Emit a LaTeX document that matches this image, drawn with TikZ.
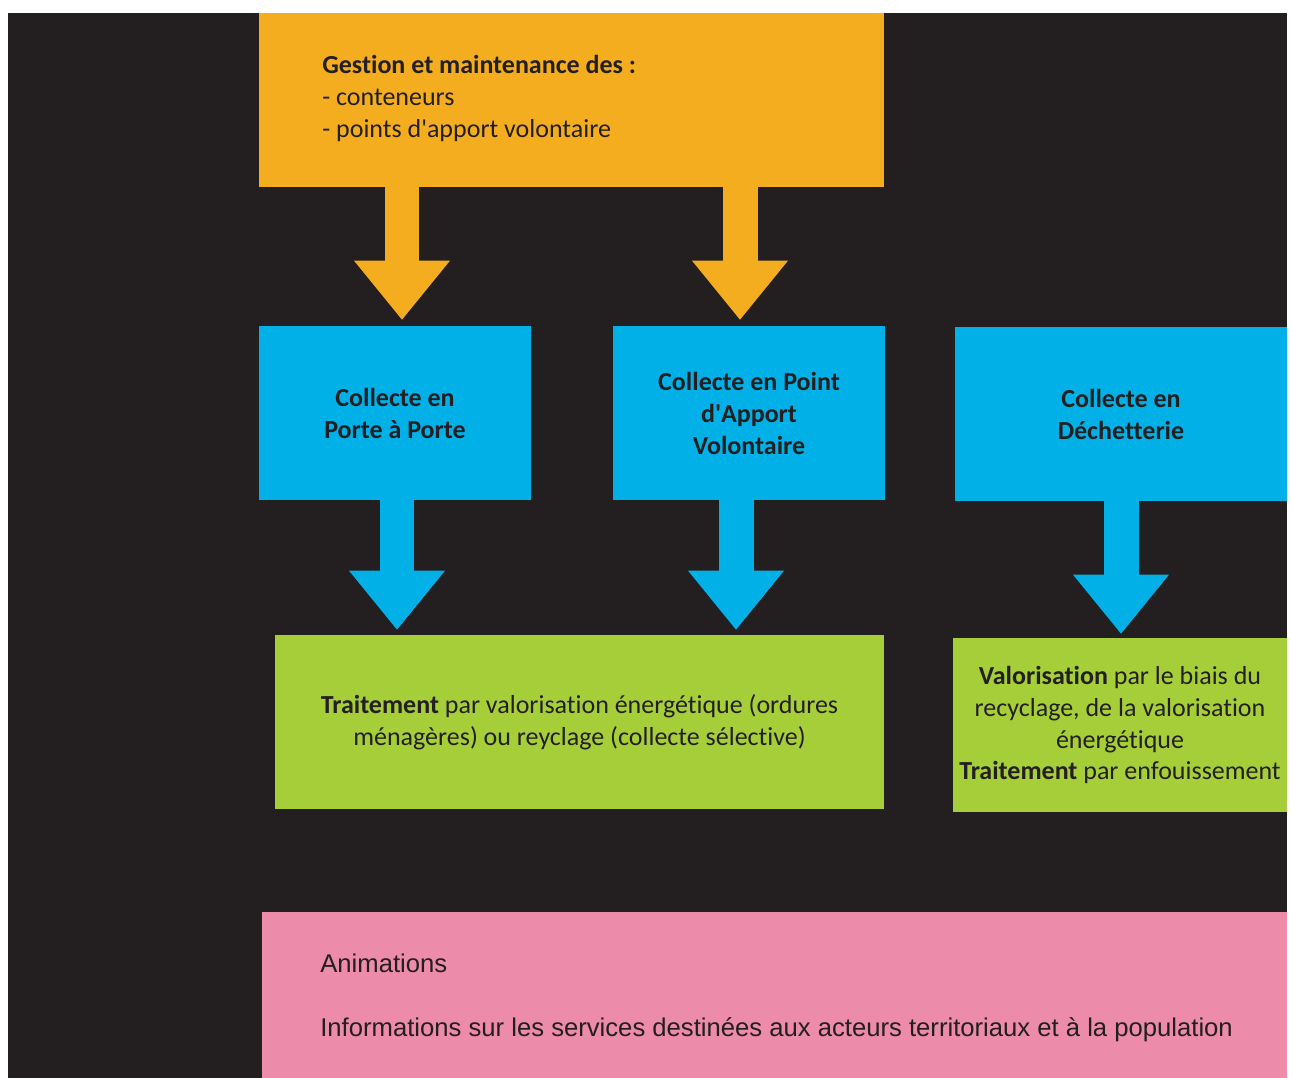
\documentclass[tikz,border=0pt]{standalone}
\usepackage{fontspec}
\setmainfont{Carlito}[Ligatures={NoCommon}]
\newfontfamily\arialfont{Liberation Sans}
\usepackage{tikz}
\usetikzlibrary{positioning,arrows.meta}

\definecolor{bgblack}{HTML}{231F20}
\definecolor{gorange}{HTML}{F4AD1E}
\definecolor{cblue}{HTML}{00B0E6}
\definecolor{tgreen}{HTML}{A6CE39}
\definecolor{apink}{HTML}{EC8BAA}

\tikzset{
  box/.style={inner sep=0pt, minimum height=3.48cm, align=center, text=bgblack,
    font=\fontsize{14.8}{18.2}\selectfont},
  blockarrow/.style={line width=0.7cm,
    -{Triangle[width=1.92cm,length=1.18cm,line width=0pt]}},
}

\begin{document}
\begin{tikzpicture}[x=0.02cm,y=-0.02cm]
  \useasboundingbox[fill=white] (0,0) rectangle (1292,1078);
  \fill[bgblack] (8,13) rectangle (1287,1078);

  \node[box, fill=gorange, minimum width=12.5cm] (gestion) at (571.5,100) {};
  \node[anchor=base west, inner sep=0pt, align=left, text=bgblack,
    font=\fontsize{14.8}{18.2}\selectfont] (gtext) at (322,137)
    {\textbf{Gestion et maintenance des :}\\- conteneurs\\- points d\textquotesingle apport volontaire};

  \node[box, fill=cblue, minimum width=5.44cm, font=\bfseries\fontsize{14.8}{18.2}\selectfont]
    (pap) at (395,413) {Collecte en\\Porte à Porte};
  \node[box, fill=cblue, minimum width=5.44cm, font=\bfseries\fontsize{14.8}{18.2}\selectfont]
    (pav) at (749,413) {Collecte en Point\\d\textquotesingle Apport\\Volontaire};
  \node[box, fill=cblue, minimum width=6.64cm, font=\bfseries\fontsize{14.8}{18.2}\selectfont]
    (dech) at (1121,414) {Collecte en\\Déchetterie};

  \node[box, fill=tgreen, minimum width=12.18cm]
    (trait) at (579.5,722) {\textbf{Traitement} par valorisation énergétique (ordures\\ménagères) ou reyclage (collecte sélective)};
  \node[box, fill=tgreen, minimum width=6.68cm]
    (valo) at (1120,725) {\textbf{Valorisation} par le biais du\\recyclage, de la valorisation\\énergétique\\\textbf{Traitement} par enfouissement};

  \node[box, fill=apink, minimum width=20.5cm, minimum height=3.32cm] (anim) at (774.5,995) {};
  \node[anchor=base west, inner sep=0pt, text=bgblack, font=\arialfont\fontsize{14.6}{16}\selectfont]
    (atext) at (320,972) {Animations};
  \node[anchor=base west, inner sep=0pt, text=bgblack, font=\arialfont\fontsize{14.6}{16}\selectfont]
    (itext) at (320,1036) {Informations sur les services destinées aux acteurs territoriaux et à la population};

  %gestion>collectes
  \draw[blockarrow, gorange] ([xshift=0.14cm]pap.north |- gestion.south) -- ([xshift=0.14cm,yshift=0.12cm]pap.north);
  \draw[blockarrow, gorange] ([xshift=-0.18cm]pav.north |- gestion.south) -- ([xshift=-0.18cm,yshift=0.12cm]pav.north);

  %collectes>traitement
  \draw[blockarrow, cblue] ([xshift=0.04cm]pap.south) -- ([xshift=0.04cm,yshift=0.1cm]pap.south |- trait.north);
  \draw[blockarrow, cblue] ([xshift=-0.26cm]pav.south) -- ([xshift=-0.26cm,yshift=0.1cm]pav.south |- trait.north);
  \draw[blockarrow, cblue] (dech.south) -- ([yshift=0.08cm]dech.south |- valo.north);
\end{tikzpicture}
\end{document}
